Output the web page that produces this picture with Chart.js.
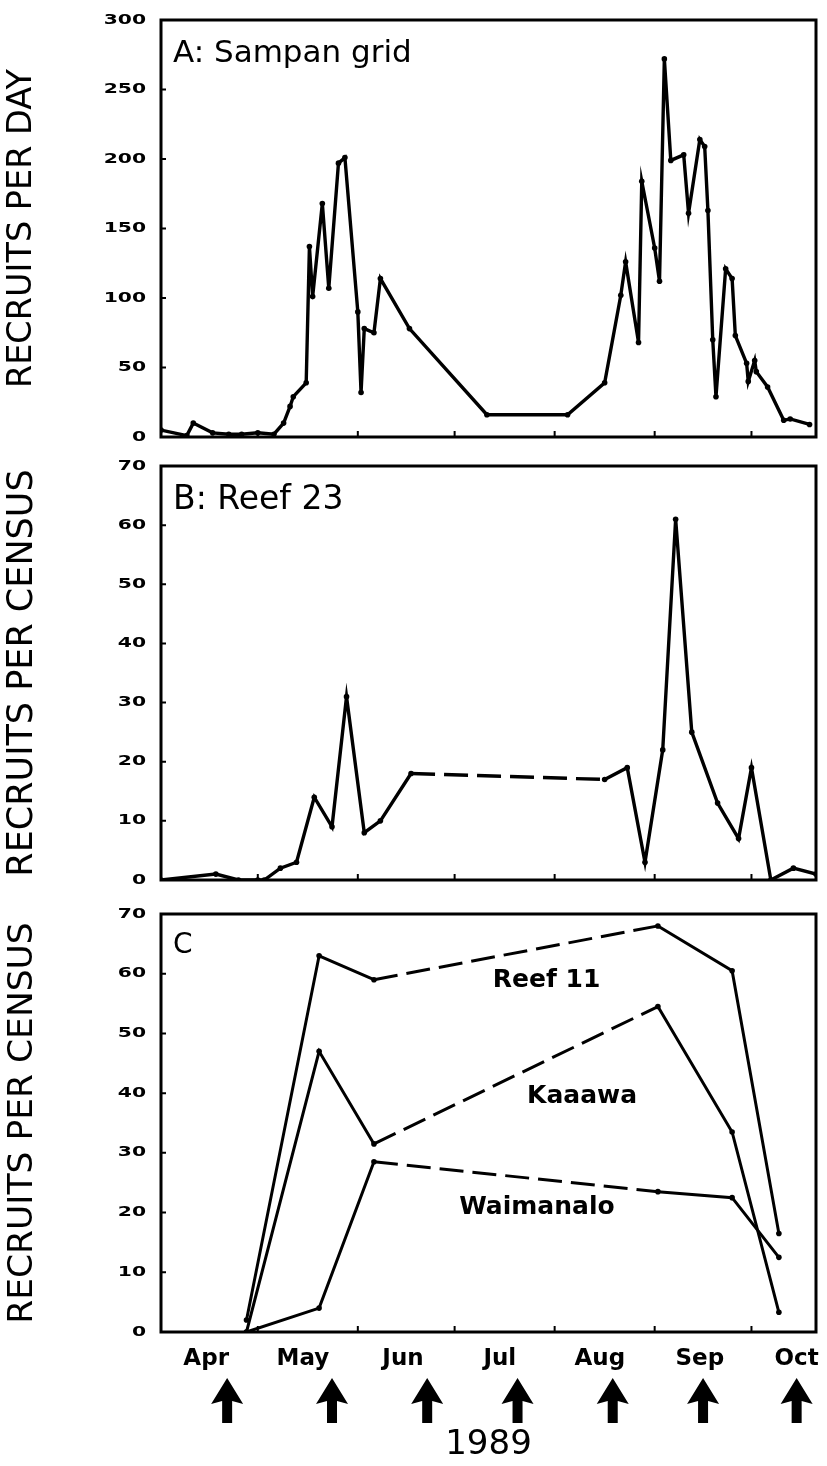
<!DOCTYPE html>
<html>
<head>
<meta charset="utf-8">
<title>Recruitment 1989</title>
<script src="https://cdn.jsdelivr.net/npm/chart.js@4.4.1/dist/chart.umd.min.js"></script>
<style>
    body { margin: 0; background: #fff; }
    #wrap { position: relative; width: 827px; height: 1466px; }
    canvas { position: absolute; left: 0; }
</style>
</head>
<body>
<div id="wrap">
    <canvas id="chartA" width="827" height="450" style="top:0"></canvas>
    <canvas id="chartB" width="827" height="450" style="top:450px"></canvas>
    <canvas id="chartC" width="827" height="566" style="top:900px"></canvas>
</div>
<script>
// --- DATA (x = days since 1 April 1989) ---
const monthNames = ['Apr', 'May', 'Jun', 'Jul', 'Aug', 'Sep', 'Oct'];
const monthMids = [14, 44, 75, 105, 136, 167, 197];
const monthStarts = [30, 61, 91, 122, 153, 183];
const moonDays = [20.5, 53, 82.5, 110.5, 140, 168, 197];

// A: Sampan grid, recruits per day
const sampanDays = [0, 8, 10, 16, 21, 25, 30, 35, 38, 40, 41, 45, 46, 47, 50, 52, 55, 57, 61, 62,
    63, 66, 68, 77, 101, 126, 137.5, 142.5, 144, 148, 149, 153, 154.5, 156, 158, 162, 163.5, 167, 168.5, 169.5,
    171, 172, 175, 177, 178, 181.5, 182, 184, 184.5, 188, 193, 195, 201];
const sampanRecruits = [5, 1, 10, 3, 2, 2, 3, 2, 10, 22, 29, 39, 137, 101, 168, 107, 197, 201, 90, 32,
    78, 75, 114, 78, 16, 16, 39, 102, 126, 68, 184, 136, 112, 272, 199, 203, 161, 214, 209, 163,
    70, 29, 121, 114, 73, 53, 40, 55, 47, 36, 12, 13, 9];

// B: Reef 23, recruits per census
const reef23Days = [0, 17, 24, 30, 32, 37, 42, 47.5, 53, 57.5, 63, 68, 77.5, 137.5, 144.5, 150, 155.5,
    159.5, 164.5, 172.5, 179, 183, 189, 196, 203];
const reef23Recruits = [0, 1, 0, 0, 0, 2, 3, 14, 9, 31, 8, 10, 18, 17, 19, 3, 22, 61, 25, 13, 7, 19, 0, 2, 1];
const reef23Dashed = [12];   // segment starting at this point is dashed

// C: three reefs, recruits per census
const censusDays = [26.5, 49, 66, 154, 177, 191.5];
const reef11Recruits = [2, 63, 59, 68, 60.5, 16.5];
const kaaawaRecruits = [0, 47, 31.5, 54.5, 33.5, 3.3];
const waimanaloRecruits = [0, 4, 28.5, 23.5, 22.5, 12.5];
const censusDashed = [2];

Chart.defaults.color = '#000';
Chart.defaults.font.family = '"DejaVu Sans", sans-serif';

const X_MAX = 203;
const AXIS_WIDTH = 161;

// --- UTILITY: one black line series ---
function lineSet(days, values, dashedFrom, width) {
    return {
        data: days.map((d, i) => ({ x: d, y: values[i] })),
        borderColor: '#000',
        borderWidth: width,
        pointRadius: 2.8,
        pointBackgroundColor: '#000',
        pointBorderWidth: 0,
        tension: 0,
        segment: {
            borderDash: c => dashedFrom.includes(c.p0DataIndex) ? [24, 9] : undefined
        }
    };
}

function drawArrow(ctx, cx, top) {
    ctx.beginPath();
    ctx.moveTo(cx, top);
    ctx.lineTo(cx + 16, top + 26);
    ctx.lineTo(cx + 5, top + 23);
    ctx.lineTo(cx + 5, top + 45);
    ctx.lineTo(cx - 5, top + 45);
    ctx.lineTo(cx - 5, top + 23);
    ctx.lineTo(cx - 16, top + 26);
    ctx.closePath();
    ctx.fill();
}

// --- PLUGIN: frame, inward ticks, wide tick labels, notes, moon arrows ---
const panelPlugin = {
    id: 'panel',
    afterDraw(chart, args, opts) {
        const { ctx, chartArea: a, scales: { x, y } } = chart;
        ctx.save();
        ctx.strokeStyle = '#000';
        ctx.fillStyle = '#000';

        ctx.lineWidth = 3;
        ctx.strokeRect(a.left, a.top, a.right - a.left, a.bottom - a.top);

        ctx.lineWidth = 2;
        ctx.beginPath();
        monthStarts.forEach(d => {
            const px = x.getPixelForValue(d);
            ctx.moveTo(px, a.bottom);
            ctx.lineTo(px, a.bottom - 6);
        });
        y.ticks.forEach(t => {
            const py = y.getPixelForValue(t.value);
            ctx.moveTo(a.left, py);
            ctx.lineTo(a.left + 5, py);
        });
        ctx.stroke();

        // wide, heavy tick numbers
        ctx.font = 'bold 14px "DejaVu Sans"';
        ctx.textAlign = 'right';
        ctx.textBaseline = 'middle';
        y.ticks.forEach(t => {
            ctx.save();
            ctx.translate(a.left - 15, y.getPixelForValue(t.value));
            ctx.scale(1.45, 1);
            ctx.fillText(String(t.value), 0, 0);
            ctx.restore();
        });

        ctx.font = opts.labelSize + 'px "DejaVu Sans"';
        ctx.textAlign = 'left';
        ctx.textBaseline = 'alphabetic';
        ctx.fillText(opts.label, a.left + 12, a.top + opts.labelDrop);

        ctx.font = 'bold 25px "DejaVu Sans"';
        ctx.textAlign = 'center';
        ctx.textBaseline = 'middle';
        (opts.notes || []).forEach(n => {
            ctx.fillText(n.text, x.getPixelForValue(n.day), y.getPixelForValue(n.value));
        });

        (opts.arrows || []).forEach(d => drawArrow(ctx, x.getPixelForValue(d), a.bottom + 46));
        ctx.restore();
    }
};

function buildChart(id, cfg) {
    const xAxis = {
        type: 'linear',
        min: 0,
        max: X_MAX,
        grid: { display: false },
        border: { display: false },
        ticks: { display: false },
        afterFit: s => {
            s.height = cfg.bottom;
            s.paddingLeft = 0;
            s.paddingRight = 0;
        }
    };
    if (cfg.months) {
        xAxis.ticks = {
            display: true,
            autoSkip: false,
            maxRotation: 0,
            padding: 5,
            font: { size: 23, weight: 'bold' },
            callback: (v, i) => monthNames[i]
        };
        xAxis.afterBuildTicks = s => { s.ticks = monthMids.map(v => ({ value: v })); };
        xAxis.title = { display: true, text: '1989', font: { size: 34 }, padding: { top: 0, bottom: 0 } };
    }

    return new Chart(document.getElementById(id), {
        type: 'line',
        data: { datasets: cfg.datasets },
        plugins: [panelPlugin],
        options: {
            responsive: false,
            animation: false,
            events: [],
            layout: { padding: { top: cfg.top, right: 11, left: 0, bottom: 0 } },
            plugins: {
                legend: { display: false },
                tooltip: { enabled: false },
                panel: { label: cfg.label, labelSize: cfg.labelSize, labelDrop: cfg.labelDrop, notes: cfg.notes, arrows: cfg.arrows }
            },
            scales: {
                x: xAxis,
                y: {
                    min: 0,
                    max: cfg.yMax,
                    ticks: { display: false, stepSize: cfg.yStep },
                    grid: { display: false },
                    border: { display: false },
                    title: { display: true, text: cfg.yTitle, font: { size: cfg.titleSize }, padding: { top: 2, bottom: 0 } },
                    afterFit: s => { s.width = AXIS_WIDTH; }
                }
            }
        }
    });
}

// --- 1. PANEL A ---
buildChart('chartA', {
    top: 20, bottom: 13, yMax: 300, yStep: 50,
    yTitle: 'RECRUITS PER DAY', titleSize: 33.5,
    label: 'A: Sampan grid', labelSize: 31, labelDrop: 42,
    datasets: [lineSet(sampanDays, sampanRecruits, [], 3.4)]
});

// --- 2. PANEL B ---
buildChart('chartB', {
    top: 16, bottom: 20, yMax: 70, yStep: 10,
    yTitle: 'RECRUITS PER CENSUS', titleSize: 35,
    label: 'B: Reef 23', labelSize: 33, labelDrop: 43,
    datasets: [lineSet(reef23Days, reef23Recruits, reef23Dashed, 3.4)]
});

// --- 3. PANEL C ---
buildChart('chartC', {
    top: 14, bottom: 134, yMax: 70, yStep: 10, months: true,
    yTitle: 'RECRUITS PER CENSUS', titleSize: 34.5,
    label: 'C', labelSize: 28, labelDrop: 39,
    notes: [
        { text: 'Reef 11', day: 119.5, value: 58.8 },
        { text: 'Kaaawa', day: 130.5, value: 39.5 },
        { text: 'Waimanalo', day: 116.5, value: 20.8 }
    ],
    arrows: moonDays,
    datasets: [
        lineSet(censusDays, reef11Recruits, censusDashed, 3),
        lineSet(censusDays, kaaawaRecruits, censusDashed, 3),
        lineSet(censusDays, waimanaloRecruits, censusDashed, 3)
    ]
});
</script>
</body>
</html>
